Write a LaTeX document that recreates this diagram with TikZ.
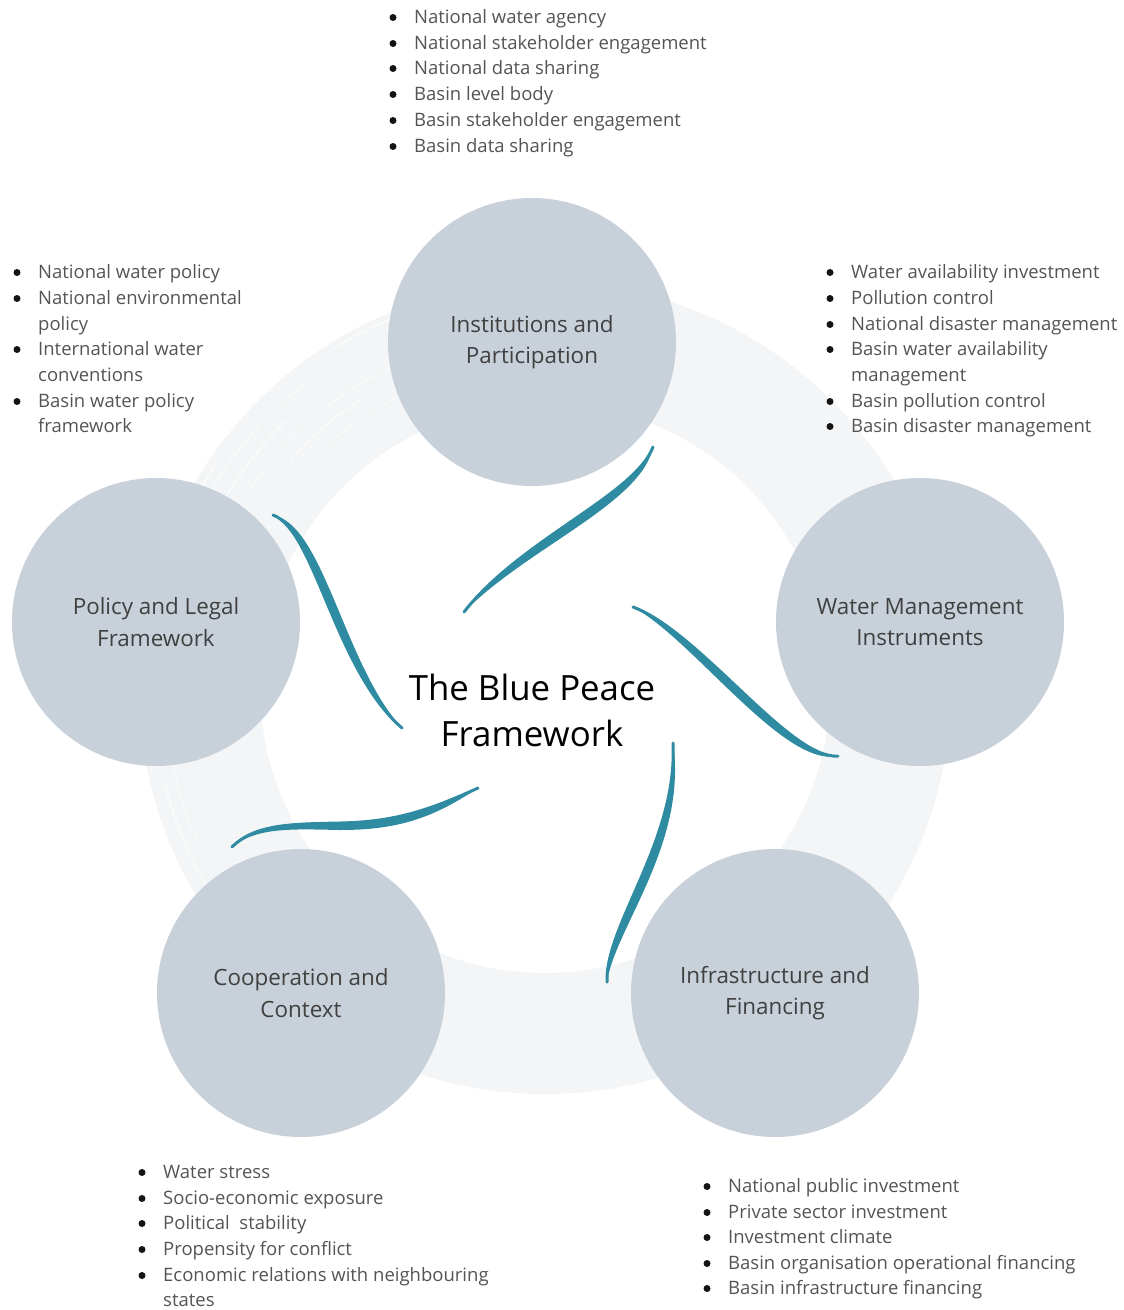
\documentclass[tikz,border=0pt]{standalone}
\usepackage{fontspec}
\setmainfont{Open Sans}
\usetikzlibrary{calc}

\definecolor{ringgrey}{RGB}{243,245,247}
\definecolor{discgrey}{RGB}{200,209,218}
\definecolor{swooshteal}{RGB}{47,139,161}
\definecolor{bodytext}{RGB}{84,84,84}
\definecolor{labeltext}{RGB}{64,64,64}
\definecolor{bulletcol}{RGB}{20,20,20}

\tikzset{
  disc/.style={circle, fill=discgrey, minimum size=288pt, inner sep=0pt,
    align=center, text=labeltext, font=\fontsize{22.4}{31.5}\selectfont},
  titletext/.style={align=center, text=black, font=\fontsize{34.8}{46}\selectfont},
  listtext/.style={anchor=base west, inner sep=0pt, text=bodytext,
    font=\fontsize{18.5}{25.7}\selectfont},
  bulletdot/.style={fill=bulletcol},
  swooshfill/.style={fill=swooshteal},
  swooshedge/.style={draw=swooshteal, line width=3pt, line cap=round},
  ringband/.style={fill=ringgrey, even odd rule},
  brushmark/.style={draw=white, line cap=round, opacity=0.75},
}

% bulleted line: name, x, baseline y, text
\newcommand\bitem[4]{%
  \node[listtext] (#1) at (#2,#3) {#4};
  \fill[bulletdot] ($(#1.base west)+(-21,-5.5)$) circle[radius=3.5pt];}
% continuation line of a wrapped item
\newcommand\citem[4]{\node[listtext] (#1) at (#2,#3) {#4};}

% tapered stroke: start, control 1, control 2, end, shift of control 1, shift of control 2
\newcommand\swoosh[6]{%
  \fill[swooshfill] (#1) .. controls (#2) and (#3) .. (#4)
     .. controls ($(#3)+(#6)$) and ($(#2)+(#5)$) .. (#1) -- cycle;
  \draw[swooshedge] (#1) .. controls (#2) and (#3) .. (#4);}

% one dry-brush streak along the ring: radius, start angle, end angle, width
\newcommand\streak[4]{%
  \draw[brushmark, line width=#4] ([shift={(#2:#1)}]hub) arc[start angle=#2, end angle=#3, radius=#1];}

\begin{document}
\begin{tikzpicture}[x=1pt, y=-1pt]
\useasboundingbox (0,0) rectangle (1124,1310);

% faint brush ring behind the five themes
\coordinate (hub) at (545,688);
\fill[ringband] (hub) circle[radius=406pt] (hub) circle[radius=285pt];
\streak{398}{196}{214}{1.4pt}
\streak{388}{204}{232}{1pt}
\streak{372}{208}{226}{1.2pt}
\streak{356}{214}{246}{0.9pt}
\streak{342}{222}{238}{1.1pt}
\streak{326}{228}{252}{0.8pt}
\streak{392}{150}{166}{1.2pt}
\streak{380}{156}{172}{0.9pt}
\streak{400}{238}{256}{1.2pt}

% the five themes
\node[disc] (inst)  at (532,342) {Institutions and\\Participation};
\node[disc] (wmi)   at (920,622) {Water Management\\Instruments};
\node[disc] (infra) at (775,993) {Infrastructure and\\Financing};
\node[disc] (coop)  at (301,993) {Cooperation and\\Context};
\node[disc] (pol)   at (156,622) {Policy and Legal\\Framework};

\node[titletext] (title) at (532,710) {The Blue Peace\\Framework};

% teal strokes circling the title
\swoosh{464,612}{520,540}{635,495}{653,447}{7,8}{7,8}
\swoosh{633,607}{700,632}{790,760}{838,756}{-6,8}{-6,8}
\swoosh{673,743}{678,840}{605,925}{607,982}{10,3}{10,3}
\swoosh{273,515}{315,530}{335,670}{402,728}{9,-5}{9,-5}
% lower-left stroke: long flat run ending in a hook
\coordinate (s4a) at (478,788);
\coordinate (s4m) at (340,823);
\coordinate (s4b) at (232,847);
\fill[swooshfill] (s4a) .. controls (430,810) and (395,822) .. (s4m)
   .. controls (292,824) and (255,824) .. (s4b)
   .. controls (257,827) and (292,829) .. (340,830)
   .. controls (398,830) and (433,818) .. (s4a) -- cycle;
\draw[swooshedge] (s4a) .. controls (430,810) and (395,822) .. (s4m)
   .. controls (292,824) and (255,824) .. (s4b);

% Institutions and Participation
\bitem{i1}{414}{23}{National water agency}
\bitem{i2}{414}{49}{National stakeholder engagement}
\bitem{i3}{414}{74}{National data sharing}
\bitem{i4}{414}{100}{Basin level body}
\bitem{i5}{414}{126}{Basin stakeholder engagement}
\bitem{i6}{414}{152}{Basin data sharing}

% Policy and Legal Framework
\bitem{p1}{38}{278}{National water policy}
\bitem{p2}{38}{304}{National environmental}
\citem{p2b}{38}{330}{policy}
\bitem{p3}{38}{355}{International water}
\citem{p3b}{38}{381}{conventions}
\bitem{p4}{38}{407}{Basin water policy}
\citem{p4b}{38}{432}{framework}

% Water Management Instruments
\bitem{w1}{851}{278}{Water availability investment}
\bitem{w2}{851}{304}{Pollution control}
\bitem{w3}{851}{330}{National disaster management}
\bitem{w4}{851}{355}{Basin water availability}
\citem{w4b}{851}{381}{management}
\bitem{w5}{851}{407}{Basin pollution control}
\bitem{w6}{851}{432}{Basin disaster management}

% Cooperation and Context
\bitem{c1}{163}{1178}{Water stress}
\bitem{c2}{163}{1204}{Socio-economic exposure}
\bitem{c3}{163}{1229}{Political\ \ stability}
\bitem{c4}{163}{1255}{Propensity for conflict}
\bitem{c5}{163}{1281}{Economic relations with neighbouring}
\citem{c5b}{163}{1306}{states}

% Infrastructure and Financing
\bitem{f1}{728}{1192}{National public investment}
\bitem{f2}{728}{1218}{Private sector investment}
\bitem{f3}{728}{1243}{Investment climate}
\bitem{f4}{728}{1269}{Basin organisation operational financing}
\bitem{f5}{728}{1294}{Basin infrastructure financing}
\end{tikzpicture}
\end{document}
